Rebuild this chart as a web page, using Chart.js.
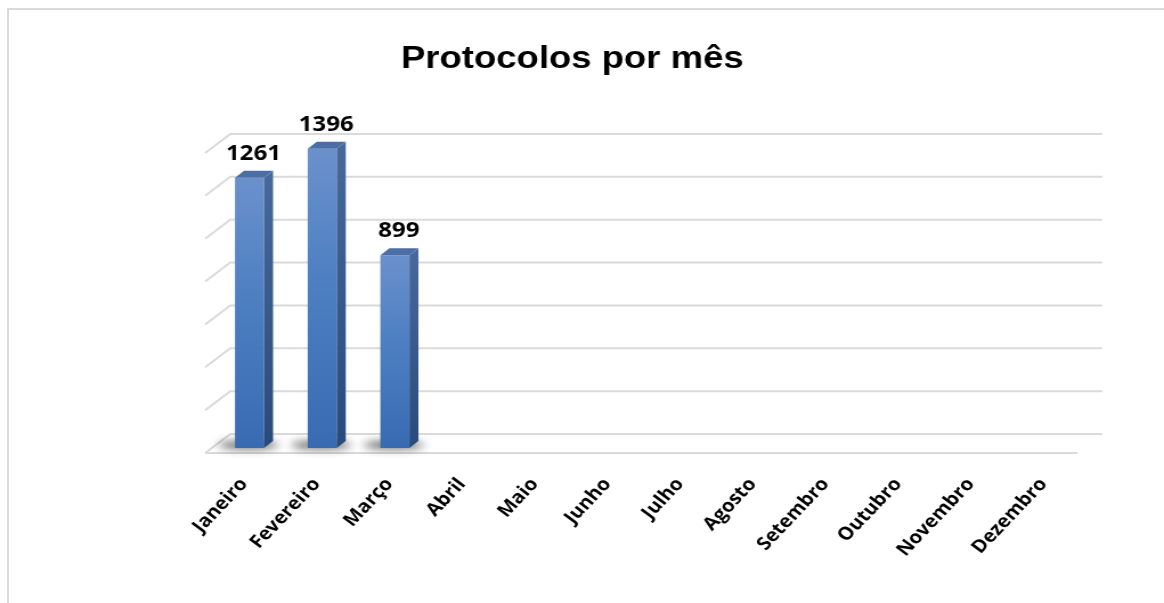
<!DOCTYPE html>
<html>
<head>
<meta charset="utf-8">
<script src="https://cdn.jsdelivr.net/npm/chart.js@4/dist/chart.umd.min.js"></script>
<style>
  html, body { margin: 0; padding: 0; background: #fff; overflow: hidden; }
  #wrap { position: relative; width: 1164px; height: 603px; }
  #chart { position: absolute; left: 0; top: 0; }
  .frame { position: absolute; left: 7px; top: 8px; width: 1300px; height: 700px; border-left: 2px solid #d9d9d9; border-top: 2px solid #d9d9d9; pointer-events: none; }
</style>
</head>
<body>
<div id="wrap">
  <!-- drawn at 1021 wide and stretched to 1164, the reference is a widened screenshot -->
  <canvas id="chart" width="1021" height="603" style="width:1164px;height:603px"></canvas>
  <div class="frame"></div>
</div>
<script>
const title = 'Protocolos por mês';
const months = ['Janeiro', 'Fevereiro', 'Março', 'Abril', 'Maio', 'Junho', 'Julho', 'Agosto', 'Setembro', 'Outubro', 'Novembro', 'Dezembro'];
const protocolos = [1261, 1396, 899, null, null, null, null, null, null, null, null, null];
const yMax = 1400;
const yStep = 200;

// fake 3d depth (canvas px): bar top face, back wall, front edge of floor
const barDepth = { x: 7.9, y: -7 };
const wallBack = { x: 14.9, y: -14 };
const wallFront = { x: -7, y: 5 };

function frontGradient(c) {
  const chart = c.chart;
  if (!chart.chartArea || c.raw == null) return '#4f80c2';
  const y = chart.scales.y;
  const g = chart.ctx.createLinearGradient(0, y.getPixelForValue(c.raw), 0, y.getPixelForValue(0));
  g.addColorStop(0, '#6b91cc');
  g.addColorStop(0.45, '#4d7fc2');
  g.addColorStop(1, '#386bb2');
  return g;
}

const faux3d = {
  id: 'faux3d',
  beforeDatasetsDraw(chart) {
    const { ctx, chartArea: a, scales: { y } } = chart;
    ctx.save();
    ctx.strokeStyle = '#dadada';
    ctx.lineWidth = 2;
    y.ticks.forEach(t => {
      const py = y.getPixelForValue(t.value);
      ctx.beginPath();
      ctx.moveTo(a.left + wallFront.x, py + wallFront.y);
      ctx.lineTo(a.left + wallBack.x, py + wallBack.y);
      ctx.lineTo(a.right + wallBack.x, py + wallBack.y);
      ctx.stroke();
    });
    const base = y.getPixelForValue(0);
    ctx.beginPath();
    ctx.moveTo(a.left + wallFront.x, base + wallFront.y);
    ctx.lineTo(a.right + wallFront.x, base + wallFront.y);
    ctx.stroke();

    // soft shadow on the floor
    ctx.filter = 'blur(4px)';
    ctx.fillStyle = 'rgba(0,0,0,0.7)';
    chart.getDatasetMeta(0).data.forEach((bar, i) => {
      if (protocolos[i] == null) return;
      ctx.beginPath();
      ctx.ellipse(bar.x - 1, bar.base - 3, bar.width * 1.05, 3.5, 0, 0, Math.PI * 2);
      ctx.fill();
    });
    ctx.restore();
  },
  afterDatasetsDraw(chart) {
    const { ctx } = chart;
    ctx.save();
    chart.getDatasetMeta(0).data.forEach((bar, i) => {
      if (protocolos[i] == null) return;
      const l = bar.x - bar.width / 2, r = bar.x + bar.width / 2;
      const side = ctx.createLinearGradient(0, bar.y, 0, bar.base);
      side.addColorStop(0, '#46689c');
      side.addColorStop(1, '#284a7c');
      ctx.fillStyle = side;
      ctx.beginPath();
      ctx.moveTo(r, bar.y);
      ctx.lineTo(r + barDepth.x, bar.y + barDepth.y);
      ctx.lineTo(r + barDepth.x, bar.base + barDepth.y);
      ctx.lineTo(r, bar.base);
      ctx.closePath();
      ctx.fill();

      ctx.fillStyle = '#4b6ea6';
      ctx.beginPath();
      ctx.moveTo(l, bar.y);
      ctx.lineTo(l + barDepth.x, bar.y + barDepth.y);
      ctx.lineTo(r + barDepth.x, bar.y + barDepth.y);
      ctx.lineTo(r, bar.y);
      ctx.closePath();
      ctx.fill();

      ctx.fillStyle = '#000';
      ctx.font = 'bold 21px "Open Sans"';
      ctx.textAlign = 'center';
      ctx.textBaseline = 'alphabetic';
      ctx.fillText(String(protocolos[i]), bar.x + 3.5, bar.y - 18);
    });

    ctx.font = 'bold 32px "Liberation Sans", Arial';
    ctx.fillStyle = '#000';
    ctx.textAlign = 'center';
    ctx.fillText(title, 502, 68);
    ctx.restore();
  }
};

new Chart(document.getElementById('chart'), {
  type: 'bar',
  data: {
    labels: months,
    datasets: [{
      label: title,
      data: protocolos,
      backgroundColor: frontGradient,
      borderWidth: 0,
      barPercentage: 0.4,
      categoryPercentage: 1
    }]
  },
  options: {
    responsive: false,
    devicePixelRatio: 1,
    animation: false,
    layout: { padding: { top: 148, left: 187, right: 69, bottom: 0 } },
    plugins: { legend: { display: false }, title: { display: false }, tooltip: { enabled: false } },
    scales: {
      x: {
        grid: { display: false, drawTicks: false },
        border: { display: false },
        ticks: { color: '#000', font: { family: 'Open Sans', weight: 'bold', size: 18 }, minRotation: 50, maxRotation: 50, padding: 26, labelOffset: -5 },
        afterFit(s) { s.height = 155; s.paddingLeft = 0; s.paddingRight = 0; }
      },
      y: {
        display: false,
        min: 0,
        max: yMax,
        ticks: { stepSize: yStep }
      }
    }
  },
  plugins: [faux3d]
});
</script>
</body>
</html>
